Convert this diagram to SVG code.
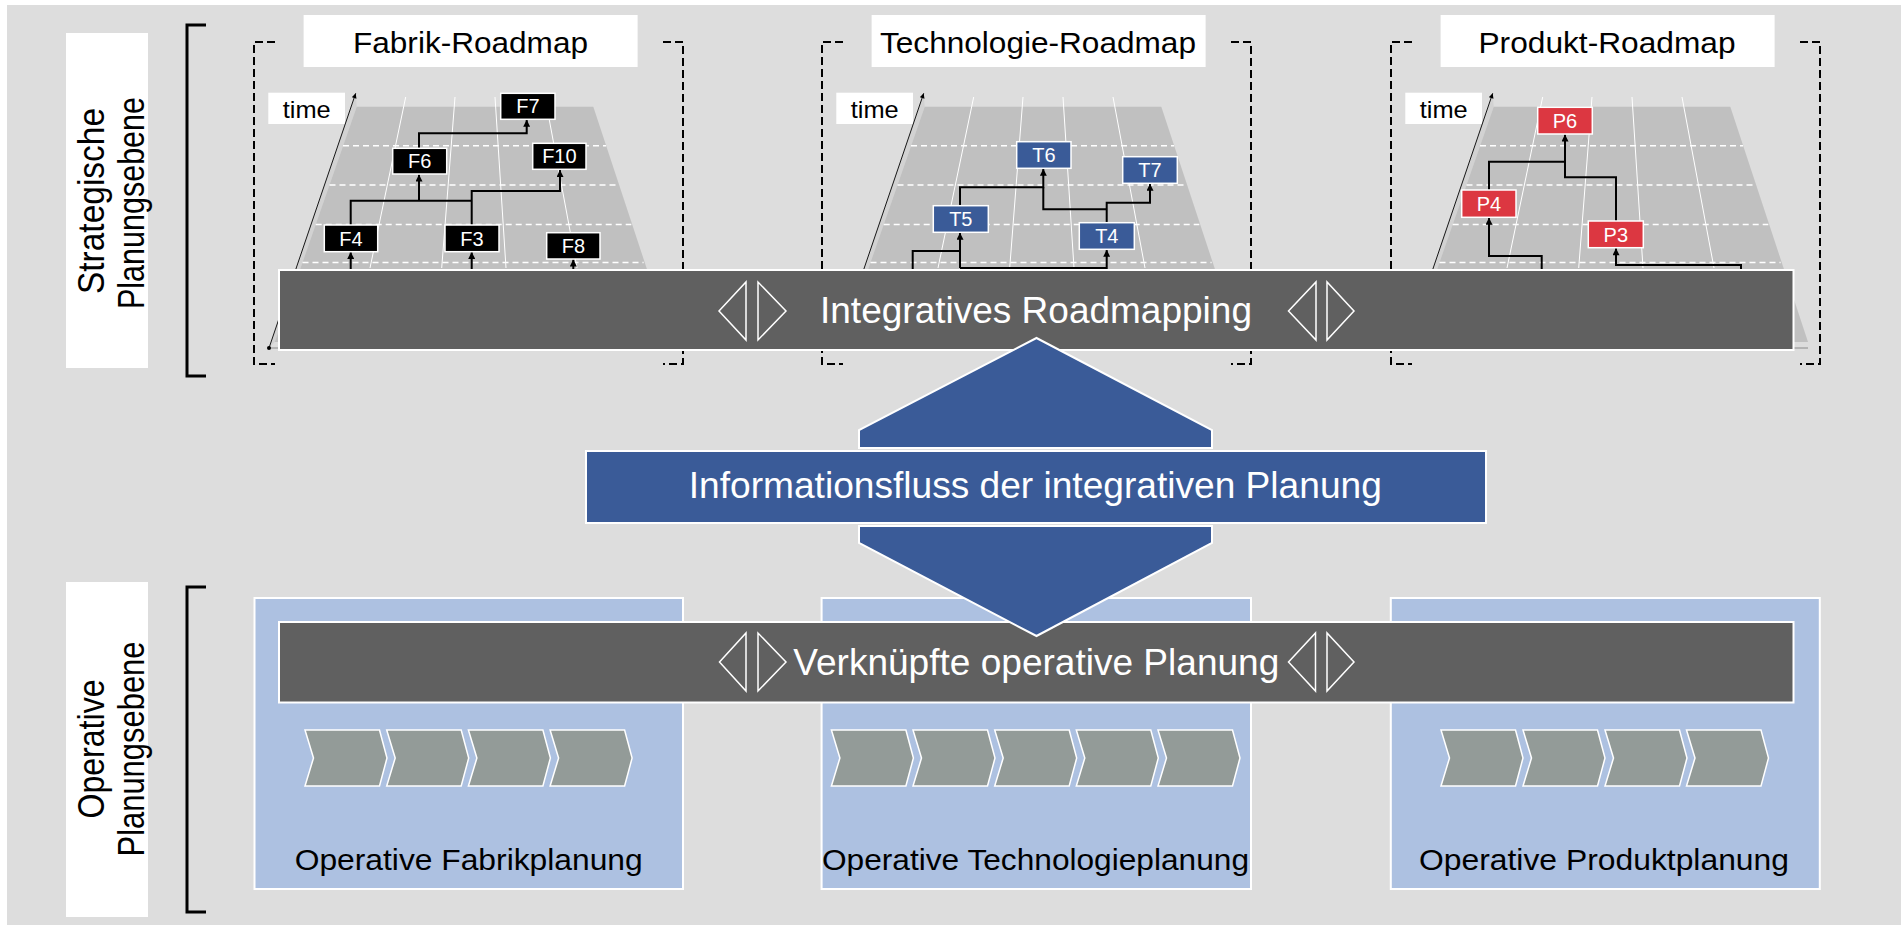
<svg xmlns="http://www.w3.org/2000/svg" xmlns:xlink="http://www.w3.org/1999/xlink" width="1901" height="925" viewBox="0 0 1901 925">
<style>
text{font-family:"Liberation Sans",Arial,sans-serif}
.side{font-size:37px;fill:#000;text-anchor:middle}
.title{font-size:29px;fill:#000;text-anchor:middle}
.time{font-size:24px;fill:#000}
.nf{fill:#000;stroke:#fff;stroke-width:1.5}
.nt{fill:#3a5b98;stroke:#fff;stroke-width:1.5}
.np{fill:#dc3741;stroke:#fff;stroke-width:1.5}
.ntx{font-size:20px;fill:#fff;text-anchor:middle}
.bar{fill:#606060;stroke:#fff;stroke-width:2}
.big{font-size:37px;fill:#fff;text-anchor:middle}
.tri{fill:none;stroke:#fff;stroke-width:1.5}
.blue{fill:#3a5b98;stroke:#fff;stroke-width:2}
.lb{fill:#adc1e1;stroke:#fff;stroke-width:2}
.chev{fill:#939b98;stroke:#fff;stroke-width:1.5}
.op{font-size:30px;fill:#000;text-anchor:middle}
.con{fill:none;stroke:#000;stroke-width:2}
.frame{fill:none;stroke:#000;stroke-width:2;stroke-dasharray:8 4}
.grid{stroke:#fff;stroke-width:1}
.dash{stroke:#fff;stroke-width:1.5;stroke-dasharray:6 4}
</style>
<defs>
<marker id="ah" viewBox="0 0 10 10" refX="10" refY="5" markerWidth="8" markerHeight="7" markerUnits="userSpaceOnUse" orient="auto"><path d="M0,0 L10,5 L0,10 z" fill="#000"/></marker>
<marker id="ahs" viewBox="0 0 10 10" refX="10" refY="5" markerWidth="6" markerHeight="5" markerUnits="userSpaceOnUse" orient="auto"><path d="M0,0 L10,5 L0,10 z" fill="#000"/></marker>
<g id="plane">
<path class="frame" d="M275,42 H254 V364 H275 M663,42 H683 V364 H663"/>
<rect x="303.6" y="15" width="334" height="52" fill="#fff"/>
<polygon points="355.7,93.3 356.7,106.7 274.8,342 269,348" fill="#d2d2d2"/>
<polygon points="356.7,106.7 593.3,106.7 671,342 274.8,342" fill="#c0c0c0"/>
<line class="grid" x1="405.7" y1="97" x2="370" y2="268"/>
<line class="grid" x1="455" y1="97" x2="441.7" y2="268"/>
<line class="grid" x1="495" y1="97" x2="506" y2="268"/>
<line class="grid" x1="545" y1="97" x2="577" y2="268"/>
<line class="dash" x1="343" y1="145.7" x2="606" y2="145.7"/>
<line class="dash" x1="329.5" y1="185" x2="618.6" y2="185"/>
<line class="dash" x1="315.7" y1="224.5" x2="631.3" y2="224.5"/>
<line class="dash" x1="302.5" y1="262.5" x2="643.6" y2="262.5"/>
<line x1="269" y1="348" x2="671" y2="348" stroke="#8a8a8a" stroke-width="1"/>
<rect x="268.3" y="92.7" width="76.7" height="31.3" fill="#fff"/>
<line x1="269" y1="348" x2="355.7" y2="93.3" stroke="#000" stroke-width="0.9" marker-end="url(#ahs)"/>
<circle cx="269" cy="348" r="2" fill="#000"/>
</g>
</defs>
<rect x="0" y="0" width="1901" height="925" fill="#fff"/>
<rect x="7" y="5" width="1894" height="920" fill="#dddddd"/>

<g id="label-strategisch">
<rect x="66" y="33" width="82" height="335" fill="#fff"/>
<text class="side" transform="translate(104,201) rotate(-90)" textLength="186" lengthAdjust="spacingAndGlyphs">Strategische</text>
<text class="side" transform="translate(144,203) rotate(-90)" textLength="212" lengthAdjust="spacingAndGlyphs">Planungsebene</text>
<path d="M206,25 H187 V376 H206" fill="none" stroke="#000" stroke-width="3"/>
</g>
<g id="label-operativ">
<rect x="66" y="582" width="82" height="335" fill="#fff"/>
<text class="side" transform="translate(104,749) rotate(-90)" textLength="139" lengthAdjust="spacingAndGlyphs">Operative</text>
<text class="side" transform="translate(144,749) rotate(-90)" textLength="215" lengthAdjust="spacingAndGlyphs">Planungsebene</text>
<path d="M206,587 H187 V912 H206" fill="none" stroke="#000" stroke-width="3"/>
</g>

<g id="roadmap-fabrik">
<use xlink:href="#plane" href="#plane"/>
<text class="title" x="470.5" y="53" textLength="235" lengthAdjust="spacingAndGlyphs">Fabrik-Roadmap</text>
<text class="time" x="282.7" y="118.3" textLength="48" lengthAdjust="spacingAndGlyphs">time</text>
</g>
<g id="roadmap-technologie">
<use xlink:href="#plane" href="#plane" x="568"/>
<text class="title" x="1038" y="53" textLength="316" lengthAdjust="spacingAndGlyphs">Technologie-Roadmap</text>
<text class="time" x="850.7" y="118.3" textLength="48" lengthAdjust="spacingAndGlyphs">time</text>
</g>
<g id="roadmap-produkt">
<use xlink:href="#plane" href="#plane" x="1137"/>
<text class="title" x="1607" y="53" textLength="257" lengthAdjust="spacingAndGlyphs">Produkt-Roadmap</text>
<text class="time" x="1419.7" y="118.3" textLength="48" lengthAdjust="spacingAndGlyphs">time</text>
</g>

<g id="connectors">
<path class="con" d="M350.7,270 V252" marker-end="url(#ah)"/>
<path class="con" d="M471.7,270 V252" marker-end="url(#ah)"/>
<path class="con" d="M573.3,270 V259.5" marker-end="url(#ah)"/>
<path class="con" d="M350.7,225 V200.7 H471.7"/>
<path class="con" d="M419,200.7 V174.5" marker-end="url(#ah)"/>
<path class="con" d="M471.7,225 V191 H560 V170" marker-end="url(#ah)"/>
<path class="con" d="M419,148.3 V133.3 H526.7 V119.8" marker-end="url(#ah)"/>

<path class="con" d="M912.7,270 V251 H960"/>
<path class="con" d="M960,268 V232.8" marker-end="url(#ah)"/>
<path class="con" d="M960,268 H1106.7 V249.8" marker-end="url(#ah)"/>
<path class="con" d="M960,205.7 V187.3 H1043.3 V168.8" marker-end="url(#ah)"/>
<path class="con" d="M1106.7,222.7 V202.7 H1150 V183.8" marker-end="url(#ah)"/>
<path class="con" d="M1106.7,209.3 H1043.3 V187.3"/>

<path class="con" d="M1541.7,270 V256 H1489 V217.8" marker-end="url(#ah)"/>
<path class="con" d="M1741,270 V265 H1616 V248.2" marker-end="url(#ah)"/>
<path class="con" d="M1489,190 V161.7 H1565 V134.5" marker-end="url(#ah)"/>
<path class="con" d="M1616,221 V177.3 H1565 V161.7"/>
</g>

<g id="F7"><rect class="nf" x="500.7" y="93.3" width="54.3" height="26"/><text class="ntx" x="527.9" y="113.4">F7</text></g>
<g id="F6"><rect class="nf" x="392.7" y="148.3" width="54" height="25.7"/><text class="ntx" x="419.7" y="168.4">F6</text></g>
<g id="F10"><rect class="nf" x="532.7" y="143.3" width="53.3" height="26"/><text class="ntx" x="559.4" y="163.4">F10</text></g>
<g id="F4"><rect class="nf" x="324.3" y="225" width="53.4" height="26.7"/><text class="ntx" x="351" y="245.5">F4</text></g>
<g id="F3"><rect class="nf" x="445" y="225" width="54" height="26.7"/><text class="ntx" x="472" y="245.5">F3</text></g>
<g id="F8"><rect class="nf" x="546.7" y="232.7" width="53.3" height="26.3"/><text class="ntx" x="573.4" y="253">F8</text></g>

<g id="T6"><rect class="nt" x="1016.7" y="141.7" width="54.3" height="26.6"/><text class="ntx" x="1043.9" y="162.2">T6</text></g>
<g id="T7"><rect class="nt" x="1122.7" y="156.7" width="54.6" height="26.6"/><text class="ntx" x="1150" y="177.2">T7</text></g>
<g id="T5"><rect class="nt" x="933.3" y="205.7" width="55" height="26.6"/><text class="ntx" x="960.8" y="226.2">T5</text></g>
<g id="T4"><rect class="nt" x="1079.3" y="222.7" width="55" height="26.6"/><text class="ntx" x="1106.8" y="243.2">T4</text></g>

<g id="P6"><rect class="np" x="1537.7" y="107.3" width="54.6" height="26.7"/><text class="ntx" x="1565" y="127.9">P6</text></g>
<g id="P4"><rect class="np" x="1461.7" y="190" width="54.3" height="27.3"/><text class="ntx" x="1488.9" y="210.9">P4</text></g>
<g id="P3"><rect class="np" x="1588.3" y="221" width="55" height="26.7"/><text class="ntx" x="1615.8" y="241.5">P3</text></g>

<g id="bar-integrativ">
<rect class="bar" x="279" y="270" width="1514.5" height="80"/>
<polygon class="tri" points="746,282 746,340 719,311"/>
<polygon class="tri" points="758,282 758,340 786,311"/>
<polygon class="tri" points="1316,282 1316,340 1288.5,311"/>
<polygon class="tri" points="1327,282 1327,340 1354,311"/>
<text class="big" x="1036" y="323" textLength="432" lengthAdjust="spacingAndGlyphs">Integratives Roadmapping</text>
</g>

<g id="op-fabrik">
<rect class="lb" x="254.5" y="598" width="428.5" height="291"/>
<path class="chev" d="M305,730 h74.5 l7.5,28 l-7.5,28 h-74.5 l8.5,-28 z"/>
<path class="chev" d="M386.7,730 h74.5 l7.5,28 l-7.5,28 h-74.5 l8.5,-28 z"/>
<path class="chev" d="M468.4,730 h74.5 l7.5,28 l-7.5,28 h-74.5 l8.5,-28 z"/>
<path class="chev" d="M550.1,730 h74.5 l7.5,28 l-7.5,28 h-74.5 l8.5,-28 z"/>
<text class="op" x="468.7" y="870" textLength="348" lengthAdjust="spacingAndGlyphs">Operative Fabrikplanung</text>
</g>
<g id="op-technologie">
<rect class="lb" x="821.6" y="598" width="429.4" height="291"/>
<path class="chev" d="M831.4,730 h74.5 l7.5,28 l-7.5,28 h-74.5 l8.5,-28 z"/>
<path class="chev" d="M913,730 h74.5 l7.5,28 l-7.5,28 h-74.5 l8.5,-28 z"/>
<path class="chev" d="M994.7,730 h74.5 l7.5,28 l-7.5,28 h-74.5 l8.5,-28 z"/>
<path class="chev" d="M1076.3,730 h74.5 l7.5,28 l-7.5,28 h-74.5 l8.5,-28 z"/>
<path class="chev" d="M1158,730 h74.5 l7.5,28 l-7.5,28 h-74.5 l8.5,-28 z"/>
<text class="op" x="1035.5" y="870" textLength="427" lengthAdjust="spacingAndGlyphs">Operative Technologieplanung</text>
</g>
<g id="op-produkt">
<rect class="lb" x="1390.8" y="598" width="429" height="291"/>
<path class="chev" d="M1441,730 h74.5 l7.5,28 l-7.5,28 h-74.5 l8.5,-28 z"/>
<path class="chev" d="M1523,730 h74.5 l7.5,28 l-7.5,28 h-74.5 l8.5,-28 z"/>
<path class="chev" d="M1605,730 h74.5 l7.5,28 l-7.5,28 h-74.5 l8.5,-28 z"/>
<path class="chev" d="M1686.5,730 h74.5 l7.5,28 l-7.5,28 h-74.5 l8.5,-28 z"/>
<text class="op" x="1604" y="870" textLength="370" lengthAdjust="spacingAndGlyphs">Operative Produktplanung</text>
</g>

<g id="bar-verknuepft">
<rect class="bar" x="279" y="622" width="1514.5" height="80.5"/>
<polygon class="tri" points="746,633 746,691 719.5,662"/>
<polygon class="tri" points="758,633 758,691 786,662"/>
<polygon class="tri" points="1315.5,633 1315.5,691 1288.5,662"/>
<polygon class="tri" points="1327,633 1327,691 1354,662"/>
<text class="big" x="1036.3" y="675" textLength="486" lengthAdjust="spacingAndGlyphs">Verknüpfte operative Planung</text>
</g>

<g id="informationsfluss">
<polygon class="blue" points="1036.5,338 1212,430 1212,448 859,448 859,430"/>
<rect class="blue" x="586" y="451" width="900" height="72"/>
<polygon class="blue" points="859,526 1212,526 1212,543 1036.5,636 859,543"/>
<text class="big" x="1035.3" y="498" textLength="693" lengthAdjust="spacingAndGlyphs">Informationsfluss der integrativen Planung</text>
</g>
</svg>
